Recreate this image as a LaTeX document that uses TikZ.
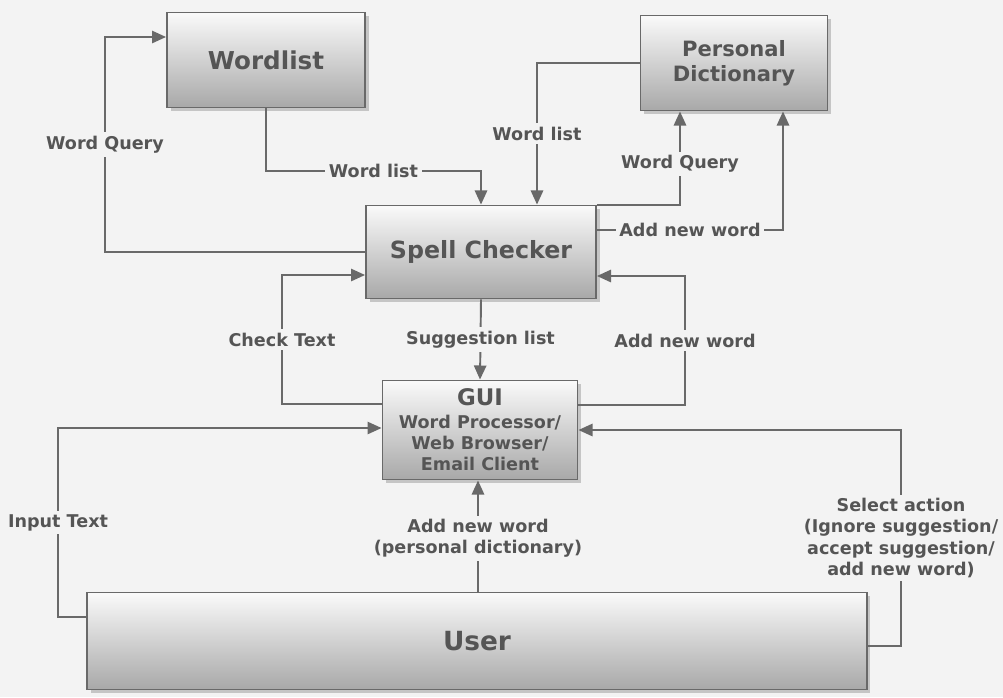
\documentclass[tikz,border=0pt]{standalone}
\usepackage{fontspec}
\setmainfont{DejaVu Sans}
\usepackage{tikz}
\usetikzlibrary{positioning,calc,shadows,arrows.meta}
\definecolor{paper}{RGB}{243,243,243}
\definecolor{ink}{RGB}{85,85,85}
\definecolor{wire}{RGB}{105,105,105}
\tikzset{
    box/.style={rectangle, draw=wire, line width=1.1pt, top color=gray!4, bottom color=gray!68,
      drop shadow={shadow xshift=2pt, shadow yshift=-2pt, opacity=0.4},
      text=ink, font=\bfseries, align=center, inner sep=2pt},
    flow/.style={draw=wire, line width=1.1pt, -{Triangle[length=8pt,width=7pt]}},
    lbl/.style={fill=paper, text=ink, font=\bfseries\fontsize{10}{12}\selectfont, align=center, inner sep=2pt},
}

\begin{document}
\begin{tikzpicture}[x=0.02cm, y=-0.02cm]

% Background
\fill[paper] (0,0) rectangle (1003,697);
\useasboundingbox (0,0) rectangle (1003,697);

% Nodes
\node[box, minimum width=3.96cm, minimum height=1.9cm, font=\bfseries\fontsize{14}{17}\selectfont] (wordlist) at (266,60) {Wordlist};
\node[box, minimum width=3.74cm, minimum height=1.9cm, font=\bfseries\fontsize{12}{14}\selectfont] (pdict) at (734,63) {Personal\\Dictionary};
\node[box, minimum width=4.6cm, minimum height=1.86cm, font=\bfseries\fontsize{13.5}{16}\selectfont] (spell) at (481,252) {Spell Checker};
\node[box, minimum width=3.9cm, minimum height=1.98cm, font=\bfseries\fontsize{10}{12}\selectfont] (gui) at (480,430)
  {\fontsize{13}{15}\selectfont GUI\\[1pt]
   \fontsize{10}{12}\selectfont Word Processor/\\Web Browser/\\Email Client};
\node[box, minimum width=15.6cm, minimum height=1.94cm, font=\bfseries\fontsize{15}{18}\selectfont] (user) at (477,641) {User};

% Edges around the spell checker
\draw[flow] (spell.west) -| (105,37) node[lbl, pos=0.75] {Word Query} -- (wordlist.west |- 105,37);
\draw[flow] (wordlist.south) |- (spell.north |- 0,171) node[lbl, pos=0.75] {Word list} -- (spell.north);
\draw[flow] (pdict.west) -| (spell.north -| 537,0) node[lbl, pos=0.75] {Word list};
\draw[flow] (spell.north east) -| (pdict.south -| 680,0) node[lbl, pos=0.72] {Word Query};
\draw[flow] (spell.east |- 0,230) -| (pdict.south -| 783,0) node[lbl, pos=0.25] {Add new word};

% Edges between GUI and spell checker
\draw[flow] (gui.west |- 0,404) -| (282,275) node[lbl, pos=0.75] {Check Text} -- (spell.west |- 0,275);
\draw[flow] (spell.south) -- (gui.north) node[lbl, midway] {Suggestion list};
\draw[flow] (gui.east |- 0,405) -| (685,276) node[lbl, pos=0.75] {Add new word} -- (spell.east |- 0,276);

% Edges from the user
\draw[flow] (user.west |- 0,617) -| (58,428) node[lbl, pos=0.75] {Input Text} -- (gui.west |- 0,428);
\draw[flow] (user.north -| 478,0) -- (gui.south -| 478,0) node[lbl, pos=0.48] {Add new word\\(personal dictionary)};
\draw[flow] (user.east |- 0,646) -| (901,430) node[lbl, pos=0.75] {Select action\\(Ignore suggestion/\\accept suggestion/\\add new word)} -- (gui.east |- 0,430);

\end{tikzpicture}
\end{document}
